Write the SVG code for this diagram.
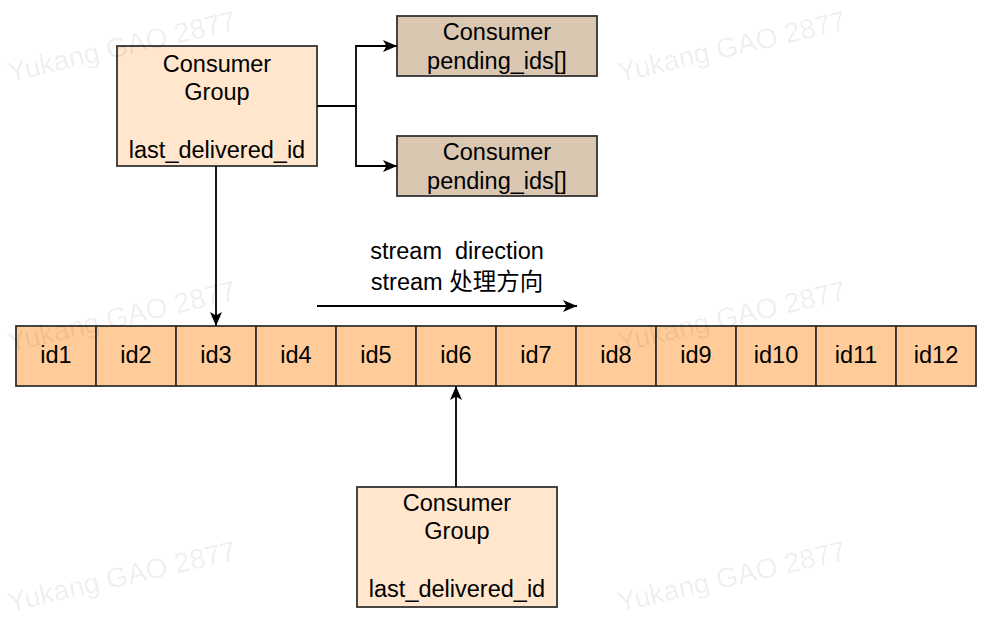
<svg xmlns="http://www.w3.org/2000/svg" width="994" height="624" viewBox="0 0 994 624">
  <style>
    text { font-family: "Liberation Sans", "Noto Sans CJK SC", sans-serif; font-size: 23.5px; fill: #000; text-anchor: middle; }
    .grp { fill: #ffe6cc; stroke: #333; stroke-width: 1.8; }
    .con { fill: #dac7b2; stroke: #333; stroke-width: 1.8; }
    .cell { fill: #ffcc99; stroke: #333; stroke-width: 1.8; }
    .edge { fill: none; stroke: #000; stroke-width: 1.8; }
    .wm { font-size: 28px; fill: #000; fill-opacity: 0.07; text-anchor: start; }
  </style>
  <defs>
    <marker id="arr" markerUnits="userSpaceOnUse" markerWidth="15" markerHeight="13" refX="14" refY="6" orient="auto">
      <path d="M0,0 L14,6 L0,12 L3.5,6 Z" fill="#000"/>
    </marker>
  </defs>
  <rect width="994" height="624" fill="#fff"/>

  <g id="group-top">
    <rect class="grp" x="117" y="46" width="200" height="120"/>
    <text x="217" y="72">Consumer</text>
    <text x="217" y="100">Group</text>
    <text x="217" y="158">last_delivered_id</text>
  </g>

  <g id="consumer-1">
    <rect class="con" x="397" y="16" width="200" height="60"/>
    <text x="497" y="40">Consumer</text>
    <text x="497" y="69">pending_ids[]</text>
  </g>

  <g id="consumer-2">
    <rect class="con" x="397" y="136" width="200" height="60"/>
    <text x="497" y="160">Consumer</text>
    <text x="497" y="189">pending_ids[]</text>
  </g>

  <g id="stream">
    <g id="id1"><rect class="cell" x="16" y="326" width="80" height="60"/><text x="56" y="363">id1</text></g>
    <g id="id2"><rect class="cell" x="96" y="326" width="80" height="60"/><text x="136" y="363">id2</text></g>
    <g id="id3"><rect class="cell" x="176" y="326" width="80" height="60"/><text x="216" y="363">id3</text></g>
    <g id="id4"><rect class="cell" x="256" y="326" width="80" height="60"/><text x="296" y="363">id4</text></g>
    <g id="id5"><rect class="cell" x="336" y="326" width="80" height="60"/><text x="376" y="363">id5</text></g>
    <g id="id6"><rect class="cell" x="416" y="326" width="80" height="60"/><text x="456" y="363">id6</text></g>
    <g id="id7"><rect class="cell" x="496" y="326" width="80" height="60"/><text x="536" y="363">id7</text></g>
    <g id="id8"><rect class="cell" x="576" y="326" width="80" height="60"/><text x="616" y="363">id8</text></g>
    <g id="id9"><rect class="cell" x="656" y="326" width="80" height="60"/><text x="696" y="363">id9</text></g>
    <g id="id10"><rect class="cell" x="736" y="326" width="80" height="60"/><text x="776" y="363">id10</text></g>
    <g id="id11"><rect class="cell" x="816" y="326" width="80" height="60"/><text x="856" y="363">id11</text></g>
    <g id="id12"><rect class="cell" x="896" y="326" width="80" height="60"/><text x="936" y="363">id12</text></g>
  </g>

  <g id="group-bottom">
    <rect class="grp" x="357" y="487" width="200" height="120"/>
    <text x="457" y="511">Consumer</text>
    <text x="457" y="539">Group</text>
    <text x="457" y="597">last_delivered_id</text>
  </g>

  <g id="direction-label">
    <text x="457" y="259" xml:space="preserve">stream  direction</text>
    <text x="457" y="290">stream 处理方向</text>
  </g>

  <g id="connectors">
    <path class="edge" d="M317,106 H356 V46 H397" marker-end="url(#arr)"/>
    <path class="edge" d="M356,106 V166 H397" marker-end="url(#arr)"/>
    <path class="edge" d="M216,166 V326" marker-end="url(#arr)"/>
    <path class="edge" d="M456,487 V386" marker-end="url(#arr)"/>
    <path class="edge" d="M317,306 H577" marker-end="url(#arr)"/>
  </g>

  <g id="watermarks">
    <text class="wm" transform="translate(10,82) rotate(-13)">Yukang GAO 2877</text>
    <text class="wm" transform="translate(620,82) rotate(-13)">Yukang GAO 2877</text>
    <text class="wm" transform="translate(10,352) rotate(-13)">Yukang GAO 2877</text>
    <text class="wm" transform="translate(620,352) rotate(-13)">Yukang GAO 2877</text>
    <text class="wm" transform="translate(10,612) rotate(-13)">Yukang GAO 2877</text>
    <text class="wm" transform="translate(620,612) rotate(-13)">Yukang GAO 2877</text>
  </g>
</svg>
